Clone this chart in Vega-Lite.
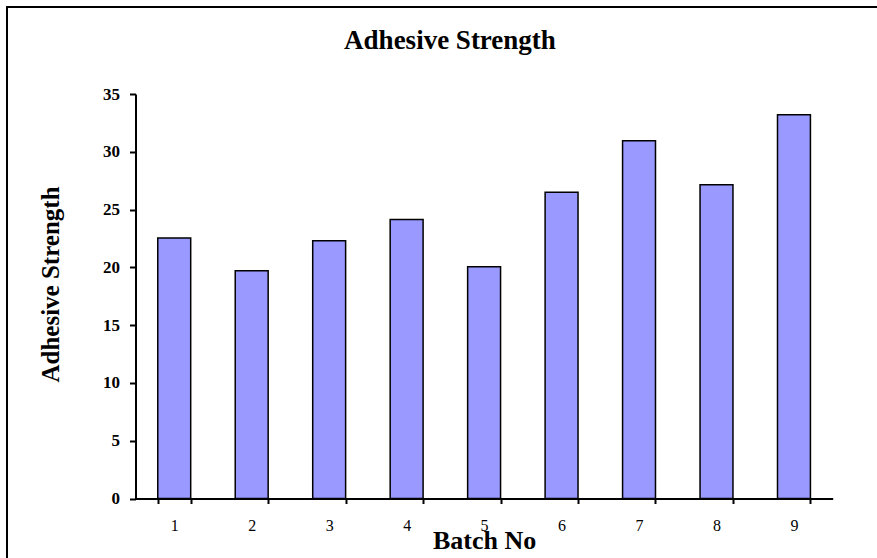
{
  "$schema": "https://vega.github.io/schema/vega-lite/v6.json",
  "width": 886,
  "height": 560,
  "autosize": {"type": "none"},
  "padding": {"left": 7, "top": 7, "right": 0, "bottom": 0},
  "background": "white",
  "title": {
    "text": "Adhesive Strength",
    "font": "Liberation Serif",
    "fontSize": 27,
    "fontWeight": "bold",
    "color": "black",
    "anchor": "middle",
    "orient": "top",
    "baseline": "alphabetic",
    "offset": -41,
    "dy": 28
  },
  "config": {
    "view": {"stroke": "black", "strokeWidth": 2},
    "font": "Liberation Serif"
  },
  "data": {
    "values": [
      {"batch": "1", "strength": 22.55},
      {"batch": "2", "strength": 19.7},
      {"batch": "3", "strength": 22.3},
      {"batch": "4", "strength": 24.15},
      {"batch": "5", "strength": 20.05},
      {"batch": "6", "strength": 26.5},
      {"batch": "7", "strength": 30.95},
      {"batch": "8", "strength": 27.15},
      {"batch": "9", "strength": 33.2}
    ]
  },
  "mark": {"type": "bar", "fill": "#9999FF", "stroke": "black", "strokeWidth": 1.5},
  "encoding": {
    "x": {
      "field": "batch",
      "type": "ordinal",
      "scale": {"range": [128.5, 825.7], "paddingInner": 0.575, "paddingOuter": 0.2875},
      "axis": {
        "title": "Batch No",
        "titleFont": "Liberation Serif",
        "titleFontSize": 26,
        "titleFontWeight": "bold",
        "titleColor": "black",
        "titlePadding": -6,
        "labelFont": "Liberation Serif",
        "labelFontSize": 16,
        "labelColor": "black",
        "labelAngle": 0,
        "labelPadding": 14,
        "tickBand": "extent",
        "tickSize": 5,
        "tickWidth": 2,
        "tickColor": "black",
        "domainColor": "black",
        "domainWidth": 2,
        "grid": false,
        "offset": -68.5
      }
    },
    "y": {
      "field": "strength",
      "type": "quantitative",
      "scale": {"domain": [0, 35], "range": [491.5, 87], "nice": false, "zero": true},
      "axis": {
        "title": "Adhesive Strength",
        "titleFont": "Liberation Serif",
        "titleFontSize": 25,
        "titleFontWeight": "bold",
        "titleColor": "black",
        "titlePadding": 39,
        "titleY": 277,
        "labelFont": "Liberation Serif",
        "labelFontSize": 17,
        "labelFontWeight": "bold",
        "labelColor": "black",
        "labelPadding": 10,
        "values": [0, 5, 10, 15, 20, 25, 30, 35],
        "tickSize": 6,
        "tickWidth": 2,
        "tickColor": "black",
        "domainColor": "black",
        "domainWidth": 2,
        "grid": false,
        "offset": -128.5
      }
    }
  }
}
